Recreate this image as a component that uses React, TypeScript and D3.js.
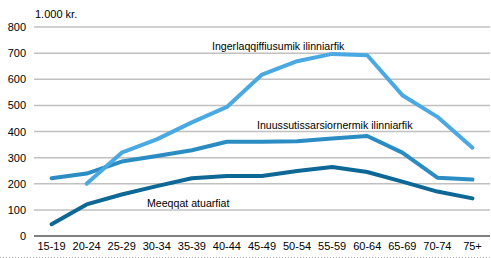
import React from "react";
import * as d3 from "d3";

const categories = ["15-19","20-24","25-29","30-34","35-39","40-44","45-49","50-54","55-59","60-64","65-69","70-74","75+"];
const meeqqat = [45, 121, 159, 191, 221, 230, 230, 249, 264, 245, 208, 170, 144];
const inuussutissarsiornermik = [221, 239, 285, 306, 328, 361, 361, 363, 373, 383, 319, 223, 216];
const ingerlaqqiffiusumik: (number | null)[] = [null, 200, 319, 370, 435, 494, 618, 669, 697, 692, 539, 456, 338];
const yTicks = [0, 100, 200, 300, 400, 500, 600, 700, 800];

const W = 491, H = 258;
const left = 34, right = 490, top = 27, bottom = 236;

export default function App() {
  const x = d3.scaleBand<string>().domain(categories).range([left, right]);
  const y = d3.scaleLinear().domain([0, 800]).range([bottom, top]);
  const cx = (c: string) => (x(c) as number) + x.bandwidth() / 2;
  const line = d3.line<number | null>()
    .defined((d) => d !== null)
    .x((_, i) => cx(categories[i]))
    .y((d) => y(d as number));

  const font = "'Liberation Sans', Arial, sans-serif";
  const series = [
    { data: meeqqat, color: "#0e6896" },
    { data: inuussutissarsiornermik, color: "#2b8cc4" },
    { data: ingerlaqqiffiusumik, color: "#4aa9e2" },
  ];

  return (
    <svg width={W} height={H} style={{ position: "absolute", left: 0, top: 0, background: "#fff" }} fontFamily={font}>
      {yTicks.filter((t) => t > 0).map((t) => (
        <line key={t} x1={left} x2={right} y1={y(t)} y2={y(t)} stroke="#c0c0c0" strokeWidth={1.5} />
      ))}
      {yTicks.map((t) => (
        <text key={t} x={26} y={y(t) + 4} fontSize={11} textAnchor="end" fill="#000">{t}</text>
      ))}
      <line x1={left} x2={right} y1={bottom} y2={bottom} stroke="#808080" strokeWidth={2} />
      {categories.map((c) => (
        <text key={c} x={cx(c)} y={250} fontSize={11} textAnchor="middle" fill="#000">{c}</text>
      ))}
      <text x={35} y={18} fontSize={11} fill="#000">1.000 kr.</text>
      {series.map((s, i) => (
        <path key={i} d={line(s.data) as string} fill="none" stroke={s.color} strokeWidth={4} strokeLinejoin="round" strokeLinecap="round" />
      ))}
      <text x={212} y={50} fontSize={10.6} fill="#000">Ingerlaqqiffiusumik ilinniarfik</text>
      <text x={257} y={129} fontSize={10.6} fill="#000">Inuussutissarsiornermik ilinniarfik</text>
      <text x={147} y={207} fontSize={10.6} fill="#000">Meeqqat atuarfiat</text>
      <line x1={0} x2={W} y1={257.5} y2={257.5} stroke="#a0a0a0" strokeWidth={1} strokeDasharray="1,2" />
    </svg>
  );
}
